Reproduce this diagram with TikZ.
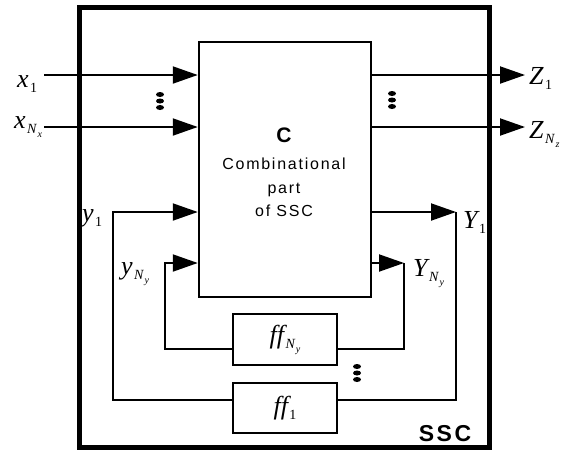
\documentclass[tikz,border=0pt]{standalone}
\usepackage{fontspec}
\setmainfont{Liberation Sans}
\newfontfamily\tms{Liberation Serif}
\newfontfamily\arl[LetterSpace=11]{Liberation Sans}
\usetikzlibrary{arrows.meta,calc}
% italic symbol with a lowered subscript, and a nested N_? subscript
\newcommand{\sig}[2]{{\tms\itshape #1}\kern1.5pt\raisebox{-5pt}{\fontsize{14}{14}\selectfont\tms #2}}
\newcommand{\subN}[1]{{\itshape N}\kern1pt\raisebox{-4pt}{\fontsize{10}{10}\selectfont\itshape #1}}

\begin{document}
\begin{tikzpicture}[x=1pt,y=-1pt,
   arr/.style={line width=2pt,-{Triangle[length=25pt,width=17pt]}},
   wire/.style={line width=2pt},
   block/.style={draw,line width=2pt,minimum width=104pt,inner sep=0pt,font=\fontsize{26}{26}\selectfont},
   lbl/.style={inner sep=0pt,anchor=base west,font=\fontsize{26}{26}\selectfont},
   dotcol/.style={fill=black}]
  \useasboundingbox (0,0) rectangle (571,451);
  \node[draw,line width=5pt,minimum width=410pt,minimum height=440pt] (ssc) at (284.5,227.5) {};
  \node[inner sep=0pt,font=\fontsize{23}{23}\selectfont\bfseries\arl] (ssclbl) at (445,433.5) {SSC};
  \node[draw,line width=2.5pt,minimum width=172pt,minimum height=255pt] (comb) at (285,169.5) {};
  \node[align=center,inner sep=0pt,font=\fontsize{16}{23.5}\selectfont\arl] (combtxt) at (284,172.5)
     {{\fontsize{21}{21}\selectfont\bfseries C}\\[3.5pt]Combinational\\part\\of SSC};
  \node[block,minimum height=51pt] (ffN) at (285,339.5) {\sig{ff}{\subN{y}}};
  \node[block,minimum height=50pt] (ffOne) at (285,408) {\sig{ff}{1}};
  % free ends and corners of the wires
  \coordinate (xone) at (44,75);
  \coordinate (xN) at (44,127);
  \coordinate (zone) at (525,75);
  \coordinate (zN) at (525,127);
  \coordinate (yonetop) at (113,212); \coordinate (yonebot) at (113,400);
  \coordinate (yNtop) at (165,263);   \coordinate (yNbot) at (165,349);
  \coordinate (Yonetop) at (456,212); \coordinate (Yonebot) at (456,400);
  \coordinate (YNtop) at (404,263);   \coordinate (YNbot) at (404,349);
  % inputs and outputs
  \draw[arr] (xone) -- (comb.west |- xone);
  \draw[arr] (xN) -- (comb.west |- xN);
  \draw[arr] (comb.east |- zone) -- (zone);
  \draw[arr] (comb.east |- zN) -- (zN);
  % feedback through the flip-flops
  \draw[arr] (ffOne.west |- yonebot) -- (yonebot) -- (yonetop) -- (comb.west |- yonetop);
  \draw[arr] (ffN.west |- yNbot) -- (yNbot) -- (yNtop) -- (comb.west |- yNtop);
  \draw[arr] (comb.east |- Yonetop) -- (Yonetop);
  \draw[wire] (Yonetop) -- (Yonebot) -- (ffOne.east |- Yonebot);
  \draw[arr] (comb.east |- YNtop) -- (YNtop);
  \draw[wire] (YNtop) -- (YNbot) -- (ffN.east |- YNbot);
  % labels
  \node[lbl] (xonelbl) at (17,87) {\sig{x}{1}};
  \node[lbl] (xNlbl) at (14,128) {\sig{x}{\subN{x}}};
  \node[lbl] (zonelbl) at (529,84) {\sig{Z}{1}};
  \node[lbl] (zNlbl) at (529,138) {\sig{Z}{\subN{z}}};
  \node[lbl] (yonelbl) at (82,221) {\sig{y}{1}};
  \node[lbl] (yNlbl) at (121,274) {\sig{y}{\subN{y}}};
  \node[lbl] (Yonelbl) at (463,228) {\sig{Y}{1}};
  \node[lbl] (YNlbl) at (413,276) {\sig{Y}{\subN{y}}};
  % vertical ellipsis marks
  \coordinate (ldots) at (160,101);
  \coordinate (rdots) at (392,100);
  \coordinate (bdots) at (357,373);
  \foreach \p in {ldots,rdots,bdots}
    \foreach \dy in {-6.5,0,6.5}
      \fill[dotcol] ($(\p)+(0,\dy)$) ellipse (4 and 2.5);
\end{tikzpicture}
\end{document}
